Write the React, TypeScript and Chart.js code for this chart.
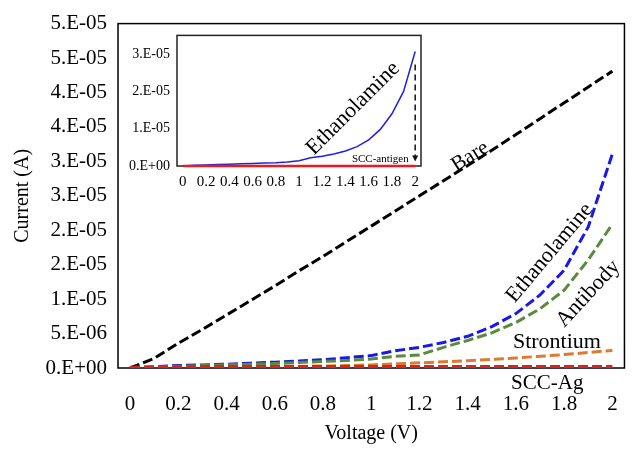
import React, { useEffect, useRef } from "react";
import { Chart, registerables } from "chart.js";
Chart.register(...registerables);

const FONT = '"Liberation Serif", "Times New Roman", serif';

// Categories (voltage, V)
const voltages = ["0", "0.1", "0.2", "0.3", "0.4", "0.5", "0.6", "0.7", "0.8", "0.9", "1", "1.1", "1.2", "1.3", "1.4", "1.5", "1.6", "1.7", "1.8", "1.9", "2"];
const xTickLabels = ["0", "0.2", "0.4", "0.6", "0.8", "1", "1.2", "1.4", "1.6", "1.8", "2"];

// Main y axis ticks
const yTickValues = [0, 5e-6, 1e-5, 1.5e-5, 2e-5, 2.5e-5, 3e-5, 3.5e-5, 4e-5, 4.5e-5, 5e-5];
const yTickLabels = ["0.E+00", "5.E-06", "1.E-05", "2.E-05", "2.E-05", "3.E-05", "3.E-05", "4.E-05", "4.E-05", "5.E-05", "5.E-05"];

// Series (current, A)
const bare = [0, 1.4e-6, 3.6e-6, 5.6e-6, 7.7e-6, 9.8e-6, 11.9e-6, 14.1e-6, 16.2e-6, 18.4e-6, 20.6e-6, 22.8e-6, 25.0e-6, 27.2e-6, 29.4e-6, 31.6e-6, 33.9e-6, 36.2e-6, 38.5e-6, 40.8e-6, 43.1e-6];
const ethanolamine = [0, 0.2e-6, 0.35e-6, 0.45e-6, 0.55e-6, 0.7e-6, 0.85e-6, 1.0e-6, 1.2e-6, 1.5e-6, 1.8e-6, 2.5e-6, 3.0e-6, 3.7e-6, 4.6e-6, 6.0e-6, 7.9e-6, 10.6e-6, 14.2e-6, 20.5e-6, 31.1e-6];
const antibody = [0, 0.15e-6, 0.25e-6, 0.35e-6, 0.45e-6, 0.55e-6, 0.65e-6, 0.8e-6, 0.95e-6, 1.1e-6, 1.3e-6, 1.7e-6, 1.9e-6, 3.0e-6, 4.0e-6, 5.1e-6, 6.6e-6, 8.6e-6, 11.3e-6, 15.7e-6, 20.9e-6];
const strontium = [0, 0.05e-6, 0.1e-6, 0.12e-6, 0.15e-6, 0.18e-6, 0.2e-6, 0.25e-6, 0.3e-6, 0.35e-6, 0.45e-6, 0.6e-6, 0.75e-6, 0.9e-6, 1.05e-6, 1.25e-6, 1.45e-6, 1.7e-6, 1.95e-6, 2.25e-6, 2.55e-6];
const sccAg = [0, 0.05e-6, 0.08e-6, 0.1e-6, 0.1e-6, 0.1e-6, 0.1e-6, 0.1e-6, 0.1e-6, 0.1e-6, 0.1e-6, 0.1e-6, 0.1e-6, 0.1e-6, 0.1e-6, 0.1e-6, 0.1e-6, 0.1e-6, 0.1e-6, 0.1e-6, 0.1e-6];

// Inset
const insetYTickValues = [0, 1e-5, 2e-5, 3e-5];
const insetYTickLabels = ["0.E+00", "1.E-05", "2.E-05", "3.E-05"];
const insetEthanolamine = [0, 0.02e-5, 0.03e-5, 0.04e-5, 0.05e-5, 0.06e-5, 0.07e-5, 0.08e-5, 0.09e-5, 0.11e-5, 0.14e-5, 0.22e-5, 0.26e-5, 0.32e-5, 0.4e-5, 0.52e-5, 0.7e-5, 0.98e-5, 1.4e-5, 2.0e-5, 3.07e-5];
const insetSccAntigen = [0, 0, 0, 0, 0, 0, 0, 0, 0, 0, 0, 0, 0, 0, 0, 0, 0, 0, 0, 0, 0];

// Annotations (voltage, current, rotation in degrees)
const mainLabels = [
  { text: "Bare", v: 1.41, c: 30.7e-6, angle: -32, size: 21, align: "center" },
  { text: "Ethanolamine", v: 1.74, c: 16.7e-6, angle: -50, size: 22, align: "center" },
  { text: "Antibody", v: 1.9, c: 10.8e-6, angle: -47, size: 22, align: "center" },
  { text: "Strontium", v: 1.77, c: 3.8e-6, angle: 0, size: 22, align: "center" },
  { text: "SCC-Ag", v: 1.73, c: -2.3e-6, angle: 0, size: 21, align: "center" },
];
const insetLabels = [
  { text: "Ethanolamine", v: 1.465, c: 1.54e-5, angle: -45, size: 22, align: "center" },
  { text: "SCC-antigen", v: 1.7, c: 0.18e-5, angle: 0, size: 11, align: "center" },
];
const insetArrow = { v: 2, from: 2.72e-5, to: 0.12e-5 };

type Lbl = { text: string; v: number; c: number; angle: number; size: number; align: string };

function makeDecor(labels: Lbl[], boxColor: string, boxWidth: number, arrow?: { v: number; from: number; to: number }) {
  return {
    id: "decor",
    beforeDatasetsDraw(chart: any) {
      const { ctx, chartArea } = chart;
      ctx.save();
      ctx.strokeStyle = boxColor;
      ctx.lineWidth = boxWidth;
      ctx.strokeRect(chartArea.left, chartArea.top, chartArea.right - chartArea.left, chartArea.bottom - chartArea.top);
      ctx.restore();
    },
    afterDraw(chart: any) {
      const { ctx } = chart;
      const xs = chart.scales.x;
      const ys = chart.scales.y;
      ctx.save();
      ctx.fillStyle = "#000";
      for (const l of labels) {
        const x = xs.getPixelForValue(l.v * 10);
        const y = ys.getPixelForValue(l.c);
        ctx.save();
        ctx.translate(x, y);
        ctx.rotate((l.angle * Math.PI) / 180);
        ctx.font = `${l.size}px ${FONT}`;
        ctx.textAlign = l.align;
        ctx.textBaseline = "middle";
        ctx.fillText(l.text, 0, 0);
        ctx.restore();
      }
      if (arrow) {
        const x = xs.getPixelForValue(arrow.v * 10);
        const y1 = ys.getPixelForValue(arrow.from);
        const y2 = ys.getPixelForValue(arrow.to);
        ctx.strokeStyle = "#111";
        ctx.lineWidth = 1.5;
        ctx.setLineDash([6, 4]);
        ctx.beginPath();
        ctx.moveTo(x, y1);
        ctx.lineTo(x, y2 - 5);
        ctx.stroke();
        ctx.setLineDash([]);
        ctx.fillStyle = "#111";
        ctx.beginPath();
        ctx.moveTo(x - 3, y2 - 6);
        ctx.lineTo(x + 3, y2 - 6);
        ctx.lineTo(x, y2);
        ctx.closePath();
        ctx.fill();
      }
      ctx.restore();
    },
  };
}

function dashed(label: string, data: number[], color: string, width: number) {
  return {
    label,
    data,
    borderColor: color,
    backgroundColor: color,
    borderWidth: width,
    borderDash: [10, 4],
    borderCapStyle: "butt",
    pointRadius: 0,
    tension: 0,
    fill: false,
  };
}

export default function App() {
  const mainRef = useRef<HTMLCanvasElement>(null);
  const insetRef = useRef<HTMLCanvasElement>(null);

  useEffect(() => {
    const main = new Chart(mainRef.current!, {
      type: "line",
      data: {
        labels: voltages,
        datasets: [
          dashed("SCC-Ag", sccAg, "#e0201c", 4.5),
          dashed("Strontium", strontium, "#dd7a2e", 3),
          dashed("Antibody", antibody, "#5a8a3c", 3),
          dashed("Ethanolamine", ethanolamine, "#1818e8", 3),
          dashed("Bare", bare, "#000000", 3),
        ] as any,
      },
      options: {
        animation: false,
        responsive: false,
        layout: { padding: { top: 21, right: 15, left: 0, bottom: 0 } },
        plugins: { legend: { display: false }, tooltip: { enabled: false } },
        scales: {
          x: {
            type: "category",
            offset: true,
            grid: { display: false, drawTicks: false },
            border: { display: false },
            ticks: {
              autoSkip: false,
              maxRotation: 0,
              minRotation: 0,
              padding: 24,
              color: "#000",
              font: { family: FONT, size: 21 },
              callback: (_v: any, i: number) => (i % 2 === 0 ? xTickLabels[i / 2] : ""),
            },
            title: { display: true, text: "Voltage (V)", color: "#000", font: { family: FONT, size: 20 }, padding: { top: 0, bottom: 11 } },
            afterFit: (s: any) => { s.height = 89; },
          },
          y: {
            type: "linear",
            min: 0,
            max: 5e-5,
            afterBuildTicks: (s: any) => { s.ticks = yTickValues.map((value) => ({ value })); },
            grid: { display: false, drawTicks: false },
            border: { display: false },
            ticks: {
              padding: 11,
              color: "#000",
              font: { family: FONT, size: 21 },
              callback: (_v: any, i: number) => yTickLabels[i],
            },
            title: { display: true, text: "Current (A)", color: "#000", font: { family: FONT, size: 20 }, padding: { top: 11, bottom: 0 } },
            afterFit: (s: any) => { s.width = 118; },
          },
        },
      } as any,
      plugins: [makeDecor(mainLabels as Lbl[], "#000", 1.5)],
    });

    const inset = new Chart(insetRef.current!, {
      type: "line",
      data: {
        labels: voltages,
        datasets: [
          { label: "SCC-antigen", data: insetSccAntigen, borderColor: "#e41e1e", borderWidth: 2.5, pointRadius: 0, tension: 0, clip: 3 },
          { label: "Ethanolamine", data: insetEthanolamine, borderColor: "#2020dd", borderWidth: 1.5, pointRadius: 0, tension: 0 },
        ] as any,
      },
      options: {
        animation: false,
        responsive: false,
        layout: { padding: { top: 7, right: 14, left: 0, bottom: 0 } },
        plugins: { legend: { display: false }, tooltip: { enabled: false } },
        scales: {
          x: {
            type: "category",
            offset: true,
            grid: { display: false, drawTicks: false },
            border: { display: false },
            ticks: {
              autoSkip: false,
              maxRotation: 0,
              minRotation: 0,
              padding: 7,
              color: "#000",
              font: { family: FONT, size: 15 },
              callback: (_v: any, i: number) => (i % 2 === 0 ? xTickLabels[i / 2] : ""),
            },
            afterFit: (s: any) => { s.height = 34; },
          },
          y: {
            type: "linear",
            min: 0,
            max: 3.5e-5,
            afterBuildTicks: (s: any) => { s.ticks = insetYTickValues.map((value) => ({ value })); },
            grid: { display: false, drawTicks: false },
            border: { display: false },
            ticks: {
              padding: 7,
              color: "#000",
              font: { family: FONT, size: 14 },
              callback: (_v: any, i: number) => insetYTickLabels[i],
            },
            afterFit: (s: any) => { s.width = 62; },
          },
        },
      } as any,
      plugins: [makeDecor(insetLabels as Lbl[], "#222", 1.5, insetArrow)],
    });

    return () => {
      main.destroy();
      inset.destroy();
    };
  }, []);

  return (
    <div style={{ position: "fixed", left: 0, top: 0, width: 642, height: 457, background: "#fff" }}>
      <canvas ref={mainRef} width={642} height={457} style={{ position: "absolute", left: 0, top: 0, width: 642, height: 457 }} />
      <canvas ref={insetRef} width={320} height={180} style={{ position: "absolute", left: 115, top: 20, width: 320, height: 180 }} />
    </div>
  );
}
